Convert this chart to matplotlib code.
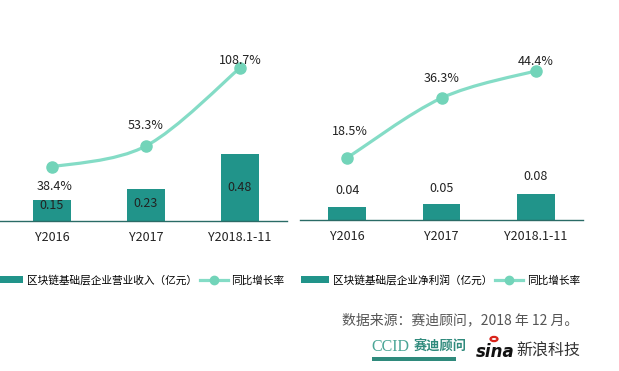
import matplotlib
matplotlib.use("Agg")
import matplotlib.pyplot as plt
from matplotlib.path import Path
from matplotlib.patches import PathPatch, Rectangle, Circle
from matplotlib.lines import Line2D
import numpy as np

plt.rcParams['font.family'] = ['Noto Sans CJK SC', 'DejaVu Sans']

# data
years = ['Y2016', 'Y2017', 'Y2018.1-11']
revenue = [0.15, 0.23, 0.48]          # 亿元
revenue_growth = [38.4, 53.3, 108.7]  # %
profit = [0.04, 0.05, 0.08]           # 亿元
profit_growth = [18.5, 36.3, 44.4]    # %

bar_color = '#21948a'
line_color = '#84dcc6'
marker_color = '#72d4b9'
axis_color = '#2a6b66'
text_color = '#222222'

W, H = 619, 371
fig = plt.figure(figsize=(W / 100, H / 100), dpi=100)


def px_axes(x0, x1, ybase, ytop):
    return fig.add_axes([x0 / W, (H - ybase) / H, (x1 - x0) / W, (ybase - ytop) / H])


def smooth_path(xs, ys):
    # catmull-rom -> bezier, like the excel "smoothed line"
    pts = np.column_stack([xs, ys]).astype(float)
    verts = [pts[0]]
    codes = [Path.MOVETO]
    n = len(pts)
    for i in range(n - 1):
        p0 = pts[i - 1] if i > 0 else pts[i]
        p1 = pts[i]
        p2 = pts[i + 1]
        p3 = pts[i + 2] if i + 2 < n else pts[i + 1]
        c1 = p1 + (p2 - p0) / 6.0
        c2 = p2 - (p3 - p1) / 6.0
        verts += [c1, c2, p2]
        codes += [Path.CURVE4] * 3
    return Path(verts, codes)


def panel(x0, x1, ybase, bar_vals, bar_top, line_vals, line_top, xmin,
          bar_inside, bar_off, line_off):
    ax = px_axes(x0, x1, ybase, 30)
    x = np.arange(len(years))
    ax.bar(x, bar_vals, width=0.40, color=bar_color, zorder=2)
    ax.set_xlim(xmin, 2.5)
    ax.set_ylim(0, bar_top)
    ax.set_xticks(x)
    ax.set_xticklabels(years, fontsize=9, color=text_color)
    ax.tick_params(axis='x', length=0, pad=7)
    ax.set_yticks([])
    for s in ['top', 'right', 'left']:
        ax.spines[s].set_visible(False)
    ax.spines['bottom'].set_color(axis_color)
    ax.spines['bottom'].set_linewidth(1.0)
    for xi, v, off in zip(x, bar_vals, bar_off):
        yv = v / 2 if bar_inside else v
        ax.annotate('%.2f' % v, (xi, yv), xytext=(0, off), textcoords='offset pixels',
                    ha='center', va='center', fontsize=9, color=text_color, zorder=5)

    ax2 = ax.twinx()
    ax2.set_ylim(0, line_top)
    ax2.set_xlim(xmin, 2.5)
    ax2.axis('off')
    ax2.add_patch(PathPatch(smooth_path(x, line_vals), facecolor='none',
                            edgecolor=line_color, lw=2.3, zorder=3))
    ax2.plot(x, line_vals, 'o', ms=8, color=marker_color, zorder=4)
    for xi, v, off in zip(x, line_vals, line_off):
        ax2.annotate('%.1f%%' % v, (xi, v), xytext=(3 if xi == 0 else 0, off),
                     textcoords='offset pixels', ha='center', va='center',
                     fontsize=9, color=text_color, zorder=5)
    return ax


panel(0, 287, 221, revenue, 191 / 140.0, revenue_growth, 191 / 1.408, -0.553,
      True, [5, 1, 0], [-20, 20, 7])
panel(300, 583, 220, profit, 190 / 325.0, profit_growth, 190 / 3.36, -0.5,
      False, [16, 15, 17], [26, 20, 9])

# legends
def legend_handles():
    bar_h = Rectangle((0, 0), 1, 1, facecolor=bar_color, edgecolor='none')
    line_h = Line2D([], [], color=line_color, lw=2.3, marker='o', ms=6,
                    markerfacecolor=marker_color, markeredgecolor=marker_color)
    return bar_h, line_h

leg_y = (H - 280) / H
b, l = legend_handles()
fig.legend([b, l], ['区块链基础层企业营业收入（亿元）', '同比增长率'],
           loc='center left', bbox_to_anchor=(-0.008, leg_y), ncol=2,
           frameon=False, fontsize=7.7, handlelength=2.6, handleheight=0.6,
           handletextpad=0.35, columnspacing=0.3, borderaxespad=0, borderpad=0)
b, l = legend_handles()
fig.legend([b, l], ['区块链基础层企业净利润（亿元）', '同比增长率'],
           loc='center left', bbox_to_anchor=(301 / W, leg_y), ncol=2,
           frameon=False, fontsize=7.7, handlelength=2.6, handleheight=0.6,
           handletextpad=0.35, columnspacing=0.3, borderaxespad=0, borderpad=0)

# source
fig.text(578 / W, (H - 320) / H, '数据来源：赛迪顾问，2018 年 12 月。', ha='right', va='center',
         fontsize=10, color='#555555')

# logos
fig.text(371 / W, (H - 347) / H, 'CCID', ha='left', va='center', fontsize=11.5,
         family='Liberation Serif', color='#4aa596')
fig.text(414 / W, (H - 347) / H, '赛迪顾问', ha='left', va='center', fontsize=9.5,
         weight='bold', color='#2f8a7c')
fig.add_artist(Rectangle((372 / W, (H - 361) / H), 84 / W, 4 / H, transform=fig.transFigure,
                         facecolor='#2f8a7c', edgecolor='none'))
fig.text(476 / W, (H - 352) / H, 'sina', ha='left', va='center', fontsize=12,
         family='DejaVu Sans', weight='bold', style='italic', color='#111111')
fig.add_artist(Circle((494 / W, (H - 339) / H), 3.5 / W, transform=fig.transFigure,
                      facecolor='none', edgecolor='#d9241b', lw=1.6))
fig.text(516 / W, (H - 351) / H, '新浪科技', ha='left', va='center', fontsize=11.5,
         style='italic', color='#333333')

fig.savefig('out.png', dpi=100)
